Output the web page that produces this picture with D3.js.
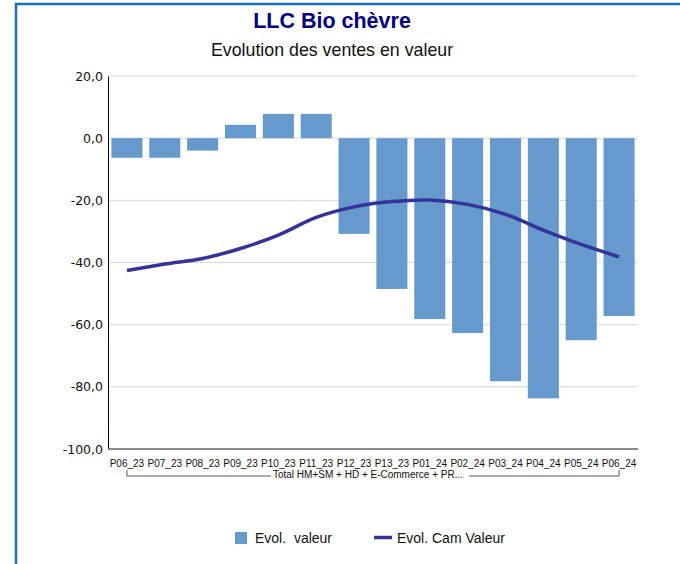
<!DOCTYPE html>
<html>
<head>
<meta charset="utf-8">
<script src="https://cdn.jsdelivr.net/npm/d3@7"></script>
<style>
  body { margin: 0; background: #fff; }
  text { font-family: "Liberation Sans", Arial, sans-serif; }
</style>
</head>
<body>
<svg width="680" height="564"></svg>
<script>
var periods = ["P06_23","P07_23","P08_23","P09_23","P10_23","P11_23","P12_23",
               "P13_23","P01_24","P02_24","P03_24","P04_24","P05_24","P06_24"];
var evolValeur = [-6.3, -6.3, -4.0, 4.3, 7.8, 7.8, -30.8, -48.5, -58.2, -62.7, -78.2, -83.7, -65.0, -57.2];
var evolCam = [-42.6, -40.5, -38.7, -35.5, -31.2, -25.5, -22.1, -20.4, -19.9, -21.3, -24.5, -29.6, -34.2, -38.2];
var yTicks = [20, 0, -20, -40, -60, -80, -100];
var groupLabel = "Total HM+SM + HD + E-Commerce + PR...";

var svg = d3.select("svg"),
    width = +svg.attr("width"),
    height = +svg.attr("height");

var plotLeft = 108, plotRight = 638, plotTop = 76, plotBottom = 449;

var frFormat = d3.formatLocale({
    decimal: ",", thousands: " ", grouping: [3], currency: ["", " €"], minus: "-"
}).format(".1f");

var x = d3.scaleBand()
    .domain(periods)
    .range([plotLeft, plotRight])
    .paddingInner(0.18)
    .paddingOuter(0.09);

var y = d3.scaleLinear()
    .domain([-100, 20])
    .range([plotBottom, plotTop]);

// frame
svg.append("path")
    .attr("d", "M16,564 L16,4 L680,4")
    .attr("fill", "none")
    .attr("stroke", "#1f6cbf")
    .attr("stroke-width", 2.5);

// titles
svg.append("text")
    .attr("x", 332).attr("y", 28)
    .attr("text-anchor", "middle")
    .style("font-size", "21.5px")
    .style("font-weight", "bold")
    .style("fill", "#000080")
    .text("LLC Bio chèvre");

svg.append("text")
    .attr("x", 332).attr("y", 56)
    .attr("text-anchor", "middle")
    .style("font-size", "17.8px")
    .style("fill", "#111")
    .text("Evolution des ventes en valeur");

// gridlines
svg.append("g")
  .selectAll("line")
  .data(yTicks.filter(function(d){ return d != -100 }))
  .enter()
  .append("line")
    .attr("x1", plotLeft).attr("x2", plotRight)
    .attr("y1", function(d){ return y(d) })
    .attr("y2", function(d){ return y(d) })
    .attr("stroke", "#d9d9d9")
    .attr("stroke-width", 1);

// y axis
var yAxis = svg.append("g")
    .attr("transform", "translate(" + plotLeft + ",0)")
    .call(d3.axisLeft(y).tickValues(yTicks).tickSize(0).tickPadding(5).tickFormat(frFormat));
yAxis.select(".domain").attr("stroke", "#000");
yAxis.selectAll("text")
    .style("font-family", "'DejaVu Sans', sans-serif")
    .style("font-size", "12.5px")
    .style("fill", "#111");

// bars
svg.append("g")
  .selectAll("rect")
  .data(periods)
  .enter()
  .append("rect")
    .attr("x", function(d){ return x(d) })
    .attr("width", x.bandwidth())
    .attr("y", function(d,i){ return Math.min(y(evolValeur[i]), y(0)) })
    .attr("height", function(d,i){ return Math.abs(y(evolValeur[i]) - y(0)) })
    .style("fill", "#6699cc");

// x axis line
svg.append("line")
    .attr("x1", plotLeft).attr("x2", plotRight)
    .attr("y1", plotBottom).attr("y2", plotBottom)
    .attr("stroke", "#666")
    .attr("stroke-width", 1.5);

// x labels
svg.append("g")
  .selectAll("text")
  .data(periods)
  .enter()
  .append("text")
    .attr("x", function(d){ return x(d) + x.bandwidth()/2 })
    .attr("y", 467)
    .attr("text-anchor", "middle")
    .style("font-size", "10px")
    .style("fill", "#111")
    .text(function(d){ return d });

// group bracket
var gx1 = x(periods[0]) + x.bandwidth()/2,
    gx2 = x(periods[periods.length-1]) + x.bandwidth()/2;
var gLabel = svg.append("text")
    .attr("x", (gx1 + gx2)/2 - 5)
    .attr("y", 478)
    .attr("text-anchor", "middle")
    .style("font-size", "10px")
    .style("fill", "#111")
    .text(groupLabel);
var bb = gLabel.node().getBBox();
svg.append("path")
    .attr("d", "M" + gx1 + ",470 L" + gx1 + ",476 L" + (bb.x - 2) + ",476 M" + (bb.x + bb.width + 6) + ",476 L" + gx2 + ",476 L" + gx2 + ",470")
    .attr("fill", "none")
    .attr("stroke", "#555")
    .attr("stroke-width", 1);

// line
var line = d3.line()
    .x(function(d,i){ return x(periods[i]) + x.bandwidth()/2 })
    .y(function(d){ return y(d) })
    .curve(d3.curveCatmullRom);

svg.append("path")
    .datum(evolCam)
    .attr("d", line)
    .attr("fill", "none")
    .attr("stroke", "#333399")
    .attr("stroke-width", 3.5);

// legend
var legend = svg.append("g");
legend.append("rect")
    .attr("x", 235).attr("y", 532)
    .attr("width", 12).attr("height", 12)
    .style("fill", "#6699cc");
legend.append("text")
    .attr("x", 255).attr("y", 543)
    .style("font-size", "14px")
    .style("fill", "#111")
    .style("white-space", "pre")
    .attr("xml:space", "preserve")
    .text("Evol.  valeur");
legend.append("line")
    .attr("x1", 374).attr("x2", 392)
    .attr("y1", 537.5).attr("y2", 537.5)
    .attr("stroke", "#333399")
    .attr("stroke-width", 3.5);
legend.append("text")
    .attr("x", 397).attr("y", 543)
    .style("font-size", "14px")
    .style("fill", "#111")
    .text("Evol. Cam Valeur");
</script>
</body>
</html>
